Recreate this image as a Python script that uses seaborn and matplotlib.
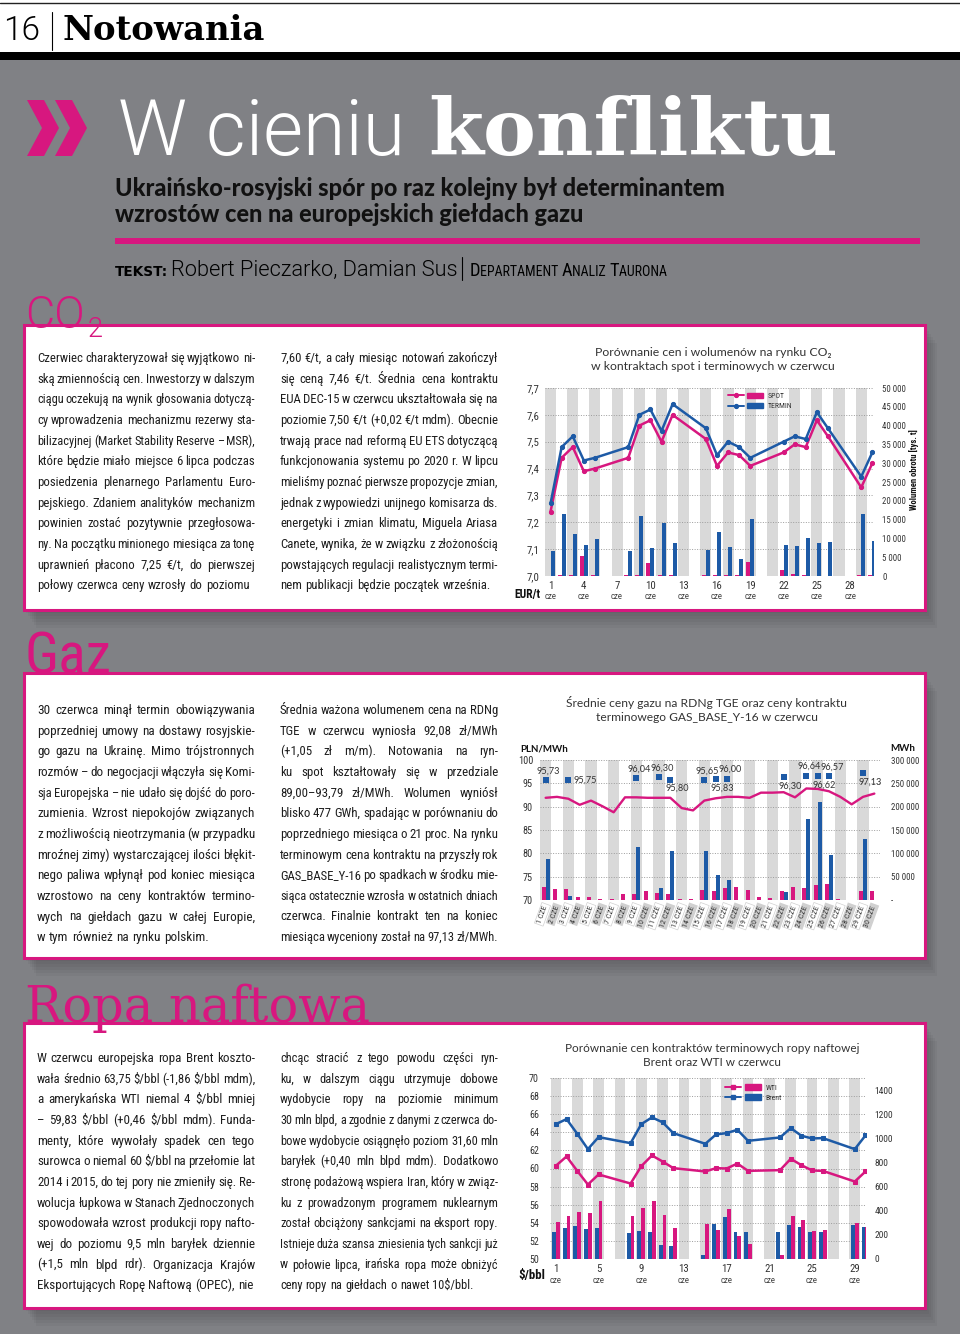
import numpy as np
import pandas as pd
import matplotlib
matplotlib.use('Agg')
import matplotlib.pyplot as plt
import seaborn as sns
from matplotlib import font_manager
from matplotlib.patches import Rectangle, Polygon, Patch
from matplotlib.lines import Line2D
from matplotlib.legend_handler import HandlerTuple
from matplotlib.transforms import blended_transform_factory

# ---------------- data ----------------
# CO2: trading days of June, prices EUR/t and volumes (tys. t)
co2_days = [1, 2, 3, 4, 5, 8, 9, 10, 11, 12, 15, 16, 17, 18, 19, 22, 23, 24, 25, 26, 29, 30]
co2_spot = [7.24, 7.44, 7.48, 7.39, 7.40, 7.44, 7.56, 7.58, 7.50, 7.60, 7.51, 7.41,
            7.46, 7.45, 7.41, 7.46, 7.49, 7.48, 7.58, 7.52, 7.33, 7.42]
co2_termin = [7.27, 7.48, 7.52, 7.43, 7.44, 7.48, 7.60, 7.62, 7.54, 7.64, 7.55, 7.45,
              7.50, 7.48, 7.44, 7.50, 7.52, 7.51, 7.61, 7.55, 7.37, 7.46]
co2_spot_vol = [100, 300, 300, 5250, 300, 200, 300, 3470, 300, 150, 150, 200,
                300, 200, 3650, 1690, 620, 200, 0, 0, 200, 200]
co2_termin_vol = [6670, 16550, 11300, 8190, 9880, 6670, 16000, 7380, 13970, 8810, 6850, 11650,
                  7830, 4450, 15040, 8360, 8010, 10140, 8720, 9080, 16460, 9250]
co2_label_days = [1, 4, 7, 10, 13, 16, 19, 22, 25, 28]
co2_price_ticks = [7.0, 7.1, 7.2, 7.3, 7.4, 7.5, 7.6, 7.7]
co2_vol_ticks = [0, 5000, 10000, 15000, 20000, 25000, 30000, 35000, 40000, 45000, 50000]

# Gas: RDNg daily average price (PLN/MWh) and volume (MWh), GAS_BASE_Y-16 price and volume
gas_days = list(range(1, 31))
gas_rdn_price = [91.9, 92.1, 91.7, 90.4, 91.3, 90.1, 88.8, 92.0, 92.0, 91.9, 91.9, 91.9, 89.7, 89.2, 91.3,
                 91.8, 92.1, 92.1, 91.9, 93.0, 93.0, 93.1, 92.0, 93.9, 93.8, 93.3, 92.1, 90.5, 92.1, 92.8]
gas_rdn_vol = [28500, 22860, 22860, 5710, 6430, 1400, 2000, 13570, 12860, 19290, 14290, 12140, 2860, 1430, 22140,
               20000, 25000, 27860, 22140, 5710, 4290, 18570, 28570, 25710, 31430, 33570, 2140, 710, 20000, 20000]
gas_y16_days = [1, 3, 9, 11, 12, 15, 16, 17, 22, 24, 25, 26, 29]
gas_y16_price = [95.73, 95.75, 96.04, 96.30, 95.80, 95.65, 95.83, 96.00, 96.30, 96.64, 96.62, 96.57, 97.13]
gas_y16_vol = [87860, 8570, 112860, 26430, 105000, 105000, 52860, 42860, 16430, 173570, 209290, 95710, 130710]
gas_price_ticks = [70, 75, 80, 85, 90, 95, 100]
gas_vol_ticks = [0, 50000, 100000, 150000, 200000, 250000, 300000]

# Oil: Brent / WTI futures ($/bbl) and volumes
oil_days = [1, 2, 3, 4, 5, 8, 9, 10, 11, 12, 15, 16, 17, 18, 19, 22, 23, 24, 25, 26, 29, 30]
oil_brent = [64.90, 65.46, 63.84, 62.14, 63.47, 62.80, 64.90, 65.65, 65.10, 63.91, 62.73, 63.76,
             63.91, 64.28, 63.06, 63.43, 64.46, 63.62, 63.32, 63.36, 62.14, 63.65]
oil_wti = [60.30, 61.33, 59.74, 58.23, 59.34, 58.34, 60.26, 61.44, 60.77, 60.04, 59.67, 60.04,
           60.00, 60.55, 59.74, 59.82, 61.07, 60.37, 59.78, 59.74, 58.56, 59.67]
oil_brent_vol = [228, 258, 275, 247, 261, 214, 233, 222, 119, 106, 31, 292,
                 347, 228, 228, 228, 281, 269, 222, 222, 281, 269]
oil_wti_vol = [306, 361, 389, 381, 483, 356, 422, 481, 369, 258, 289, 244,
               414, 192, 122, 31, 356, 328, 233, 242, 300, 269]
oil_label_days = [1, 5, 9, 13, 17, 21, 25, 29]
oil_price_ticks = [50, 52, 54, 56, 58, 60, 62, 64, 66, 68, 70]
oil_vol_ticks = [0, 200, 400, 600, 800, 1000, 1200, 1400]

# article text, line by line as set on the page
co2_col1 = ["Czerwiec charakteryzował się wyjątkowo ni-",
            "ską zmiennością cen. Inwestorzy w dalszym",
            "ciągu oczekują na wynik głosowania dotyczą-",
            "cy wprowadzenia mechanizmu rezerwy sta-",
            "bilizacyjnej (Market Stability Reserve – MSR),",
            "które będzie miało miejsce 6 lipca podczas",
            "posiedzenia plenarnego Parlamentu Euro-",
            "pejskiego. Zdaniem analityków mechanizm",
            "powinien zostać pozytywnie przegłosowa-",
            "ny. Na początku minionego miesiąca za tonę",
            "uprawnień płacono 7,25 €/t, do pierwszej",
            "połowy czerwca ceny wzrosły do poziomu"]
co2_col2 = ["7,60 €/t, a cały miesiąc notowań zakończył",
            "się ceną 7,46 €/t. Średnia cena kontraktu",
            "EUA DEC-15 w czerwcu ukształtowała się na",
            "poziomie 7,50 €/t (+0,02 €/t mdm). Obecnie",
            "trwają prace nad reformą EU ETS dotyczącą",
            "funkcjonowania systemu po 2020 r. W lipcu",
            "mieliśmy poznać pierwsze propozycje zmian,",
            "jednak z wypowiedzi unijnego komisarza ds.",
            "energetyki i zmian klimatu, Miguela Ariasa",
            "Canete, wynika, że w związku z złożonością",
            "powstających regulacji realistycznym termi-",
            "nem publikacji będzie początek września."]
gas_col1 = ["30 czerwca minął termin obowiązywania",
            "poprzedniej umowy na dostawy rosyjskie-",
            "go gazu na Ukrainę. Mimo trójstronnych",
            "rozmów – do negocjacji włączyła się Komi-",
            "sja Europejska – nie udało się dojść do poro-",
            "zumienia. Wzrost niepokojów związanych",
            "z możliwością nieotrzymania (w przypadku",
            "mroźnej zimy) wystarczającej ilości błękit-",
            "nego paliwa wpłynął pod koniec miesiąca",
            "wzrostowo na ceny kontraktów termino-",
            "wych na giełdach gazu w całej Europie,",
            "w tym również na rynku polskim."]
gas_col2 = ["Średnia ważona wolumenem cena na RDNg",
            "TGE w czerwcu wyniosła 92,08 zł/MWh",
            "(+1,05 zł m/m). Notowania na ryn-",
            "ku spot kształtowały się w przedziale",
            "89,00–93,79 zł/MWh. Wolumen wyniósł",
            "blisko 477 GWh, spadając w porównaniu do",
            "poprzedniego miesiąca o 21 proc. Na rynku",
            "terminowym cena kontraktu na przyszły rok",
            "GAS_BASE_Y-16 po spadkach w środku mie-",
            "siąca ostatecznie wzrosła w ostatnich dniach",
            "czerwca. Finalnie kontrakt ten na koniec",
            "miesiąca wyceniony został na 97,13 zł/MWh."]
oil_col1 = ["W czerwcu europejska ropa Brent koszto-",
            "wała średnio 63,75 $/bbl (-1,86 $/bbl mdm),",
            "a amerykańska WTI niemal 4 $/bbl mniej",
            "– 59,83 $/bbl (+0,46 $/bbl mdm). Funda-",
            "menty, które wywołały spadek cen tego",
            "surowca o niemal 60 $/bbl na przełomie lat",
            "2014 i 2015, do tej pory nie zmieniły się. Re-",
            "wolucja łupkowa w Stanach Zjednoczonych",
            "spowodowała wzrost produkcji ropy nafto-",
            "wej do poziomu 9,5 mln baryłek dziennie",
            "(+1,5 mln blpd rdr). Organizacja Krajów",
            "Eksportujących Ropę Naftową (OPEC), nie"]
oil_col2 = ["chcąc stracić z tego powodu części ryn-",
            "ku, w dalszym ciągu utrzymuje dobowe",
            "wydobycie ropy na poziomie minimum",
            "30 mln blpd, a zgodnie z danymi z czerwca do-",
            "bowe wydobycie osiągnęło poziom 31,60 mln",
            "baryłek (+0,40 mln blpd mdm). Dodatkowo",
            "stronę podażową wspiera Iran, który w związ-",
            "ku z prowadzonym programem nuklearnym",
            "został obciążony sankcjami na eksport ropy.",
            "Istnieje duża szansa zniesienia tych sankcji już",
            "w połowie lipca, irańska ropa może obniżyć",
            "ceny ropy na giełdach o nawet 10$/bbl."]

# ---------------- style ----------------
sns.set_style('white')
FONTS = font_manager.fontManager.ttflist
NAMES = {f.name for f in FONTS}


def pick(*names):
    for n in names:
        if n in NAMES:
            return n
    return 'DejaVu Sans'


def has_weight(name, w):
    return any(f.name == name and f.weight in (w, str(w)) for f in FONTS)


NARROW = [pick('Liberation Sans Narrow', 'Roboto Condensed', 'Roboto', 'Liberation Sans'), 'DejaVu Sans']
HUMAN = [pick('Lato', 'Roboto'), 'DejaVu Sans']
if has_weight('Roboto', 300):
    THIN = dict(family=['Roboto', 'DejaVu Sans'], weight=300)
else:
    THIN = dict(family=HUMAN, weight='light')
plt.rcParams['font.family'] = NARROW
plt.rcParams['axes.unicode_minus'] = False

MAGENTA = '#d7177f'
BLUE = '#1d5aa6'
PAGE_GREY = '#808185'
STRIPE = '#d9d9d9'
INK = '#1e1e1e'
AXTXT = '#333333'

W, H = 960, 1338
fig = plt.figure(figsize=(W / 100, H / 100), dpi=100)
R = fig.canvas.get_renderer()


def fx(x):
    return x / W


def fy(y):
    return 1 - y / H


def txt(x, y, s, size, **kw):
    kw.setdefault('va', 'baseline')
    kw.setdefault('parse_math', False)
    return fig.text(fx(x), fy(y), s, fontsize=size, **kw)


def fit(t, width):
    w = t.get_window_extent(R).width
    t.set_fontsize(t.get_fontsize() * width / w)
    return t


def rect(x0, y0, x1, y1, **kw):
    fig.add_artist(Rectangle((fx(x0), fy(y1)), fx(x1) - fx(x0), fy(y0) - fy(y1),
                             transform=fig.transFigure, **kw))


def measure(words, fs):
    arts = [txt(0, 0, w, fs, family=NARROW) for w in words]
    ws = [a.get_window_extent(R).width for a in arts]
    for a in arts:
        a.remove()
    return ws


def column(lines, x0, x1, y0, step=20.65, cap=9.6):
    ''' justified column of text, last line ragged '''
    width = x1 - x0
    probe = 10.0
    need = []
    for line in lines:
        words = line.split(' ')
        ws = measure(words, probe)
        em = probe / 72 * 100
        need.append(probe * width / (sum(ws) + 0.2 * em * (len(words) - 1)))
    base = min(cap, float(np.percentile(need[:-1], 30)))
    for i, line in enumerate(lines):
        y = y0 + i * step
        words = line.split(' ')
        fs = min(base, need[i])
        arts = [txt(0, y, w, fs, family=NARROW, color=INK, zorder=4) for w in words]
        ws = [a.get_window_extent(R).width for a in arts]
        em = fs / 72 * 100
        gap = (width - sum(ws)) / max(len(words) - 1, 1)
        if i == len(lines) - 1:
            gap = min(gap, 0.26 * em)
        x = x0
        for a, w in zip(arts, ws):
            a.set_x(fx(x))
            x += w + gap


def small_caps(x, y, s, big, width, **kw):
    ''' capital letters starting a word are set larger, the rest smaller '''
    parts = []
    for word in s.split(' '):
        parts.append((word[0], big))
        parts.append((word[1:] + ' ', big * 0.76))
    arts = [txt(0, y, p, size, **kw) for p, size in parts]
    ws = [a.get_window_extent(R).width for a in arts]
    scale = width / sum(ws)
    xx = x
    for a, w in zip(arts, ws):
        a.set_fontsize(a.get_fontsize() * scale)
        a.set_x(fx(xx))
        xx += w * scale


def pl(v, nd):
    return f'{v:.{nd}f}'.replace('.', ',')


def thousands(v):
    return f'{v:,.0f}'.replace(',', ' ')


# ---------------- page furniture ----------------
rect(0, 60, 960, 1334, fc=PAGE_GREY, ec='none', zorder=-5)
rect(0, 52, 960, 60, fc='black', ec='none', zorder=-4)
fig.add_artist(Line2D([0, 1], [fy(2.5)] * 2, color='#222222', lw=1.0, transform=fig.transFigure))
fig.add_artist(Line2D([fx(52)] * 2, [fy(12), fy(50)], color='black', lw=0.8, transform=fig.transFigure))
fit(txt(3, 40, '16', 26, color='black', **THIN), 37)
fit(txt(62, 40, 'Notowania', 24, color='black', family='DejaVu Serif', weight='bold'), 203)

# chevrons
for dx in (0, 28):
    fig.add_artist(Polygon([(fx(27 + dx), fy(100)), (fx(44 + dx), fy(100)), (fx(59 + dx), fy(128)),
                            (fx(44 + dx), fy(156)), (fx(27 + dx), fy(156)), (fx(42 + dx), fy(128))],
                           closed=True, fc=MAGENTA, ec='none', transform=fig.transFigure))
fit(txt(118, 155, 'W cieniu', 55, color='white', **THIN), 287)
fit(txt(428, 155, 'konfliktu', 54, color='white', family='DejaVu Serif', weight='bold'), 410)
sub = fit(txt(115, 196, 'Ukraińsko-rosyjski spór po raz kolejny był determinantem', 14,
              color='#111111', family=HUMAN, weight='black'), 613)
txt(115, 222, 'wzrostów cen na europejskich giełdach gazu', sub.get_fontsize(),
    color='#111111', family=HUMAN, weight='black')
rect(115, 238, 920, 244, fc=MAGENTA, ec='none', zorder=-3)
fit(txt(115, 276, 'TEKST:', 9, color='black', family='DejaVu Sans', weight='bold'), 53)
fit(txt(171, 276, 'Robert Pieczarko, Damian Sus', 19, color='black', **THIN), 286)
fig.add_artist(Line2D([fx(462)] * 2, [fy(257), fy(280)], color='black', lw=0.8, transform=fig.transFigure))
small_caps(470, 276, 'DEPARTAMENT ANALIZ TAURONA', 11, 200, color='black', family=NARROW)

# white boxes with shadow
for y0, y1 in [(325, 610), (673, 958), (1023, 1308)]:
    for k in range(1, 7):
        rect(24 + 2 * k, y0 + 3 * k, 925 + 2 * k, y1 + 3 * k, fc='black', ec='none', alpha=0.035, zorder=-3)
    rect(24, y0, 925, y1, fc='white', ec=MAGENTA, lw=2.2, zorder=-2)

fit(txt(25, 328, 'CO', 44, color=MAGENTA, zorder=5, **THIN), 60)
fit(txt(88, 337, '2', 26, color=MAGENTA, zorder=5, **THIN), 15)
fit(txt(25, 674, 'Gaz', 44, color=MAGENTA, family=NARROW, zorder=5), 87)
fit(txt(25, 1022, 'Ropa naftowa', 44, color=MAGENTA, family='DejaVu Serif', zorder=5), 345)

column(co2_col1, 37, 255, 362)
column(co2_col2, 280, 498, 362)
column(gas_col1, 37, 255, 714)
column(gas_col2, 280, 498, 714)
column(oil_col1, 37, 255, 1062)
column(oil_col2, 280, 498, 1062)


# ---------------- charts ----------------
def make_axes(x0, y0, x1, y1):
    base = fig.add_axes([fx(x0), fy(y1), (x1 - x0) / W, (y1 - y0) / H])
    vol = base.twinx()
    top = base.twinx()
    top.yaxis.set_visible(False)
    for a in (base, vol, top):
        for s in a.spines.values():
            s.set_visible(False)
    for d in range(1, 31, 2):
        base.axvspan(d - 0.5, d + 0.5, color=STRIPE, lw=0, zorder=0)
    base.set_axisbelow(True)
    base.grid(axis='y', linestyle=(0, (1, 1.6)), color='#9c9c9c', lw=0.7)
    base.grid(axis='x', visible=False)
    return base, vol, top


def finish(base, vol, top, xlim, plim, vlim, pticks, plabels, vticks, vlabels, ppad, vpad, psize, vsize):
    base.set_xlim(xlim)
    base.set_ylim(plim)
    top.set_ylim(plim)
    vol.set_ylim(vlim)
    base.set_yticks(pticks)
    base.set_yticklabels(plabels, fontsize=psize, color=AXTXT)
    vol.set_yticks(vticks)
    vol.set_yticklabels(vlabels, fontsize=vsize, color=AXTXT)
    base.tick_params(axis='y', length=0, pad=ppad)
    vol.tick_params(axis='y', length=0, pad=vpad)
    base.tick_params(axis='x', length=0)
    for a in (base, vol, top):
        a.set_xlabel('')
        a.set_ylabel('')


def day_labels(base, days, cze_y, pad):
    base.set_xticks(days)
    base.set_xticklabels([str(d) for d in days], fontsize=7.8, color=AXTXT)
    base.tick_params(axis='x', pad=pad)
    tr = blended_transform_factory(base.transData, base.transAxes)
    for d in days:
        base.text(d, cze_y, 'cze', transform=tr, ha='center', va='center', fontsize=6.4, color='#444444')


def bars(ax, days_list, vals_list, names, colors, width):
    df = pd.concat([pd.DataFrame({'day': d, 'vol': v, 'typ': n})
                    for d, v, n in zip(days_list, vals_list, names)], ignore_index=True)
    sns.barplot(data=df, x='day', y='vol', hue='typ', hue_order=names, palette=colors,
                native_scale=True, width=width, dodge=True, saturation=1, errorbar=None,
                legend=False, linewidth=0, ax=ax)


def legend(ax, names, colors, marker, anchor):
    handles = [(Line2D([], [], color=c, lw=1.4, marker=marker, ms=2.8), Patch(color=c)) for c in colors]
    leg = ax.legend(handles, names, handler_map={tuple: HandlerTuple(ndivide=None, pad=0.5)},
                    loc='upper left', bbox_to_anchor=anchor, frameon=False, fontsize=5.6,
                    handlelength=4.6, handleheight=0.75, labelspacing=0.45, handletextpad=0.6,
                    borderaxespad=0, borderpad=0)
    for t in leg.get_texts():
        t.set_color(AXTXT)


# --- CO2
base, vol, top = make_axes(545, 388, 874, 576)
bars(vol, [co2_days, co2_days], [co2_spot_vol, co2_termin_vol], ['SPOT', 'TERMIN'], [MAGENTA, BLUE], 0.72)
sns.lineplot(x=co2_days, y=co2_spot, ax=top, color=MAGENTA, lw=1.8, marker='o', markersize=3, mec=MAGENTA)
sns.lineplot(x=co2_days, y=co2_termin, ax=top, color=BLUE, lw=1.8, marker='o', markersize=3, mec=BLUE)
finish(base, vol, top, (0.5, 30.15), (7.0, 7.7), (0, 50000),
       co2_price_ticks, [pl(v, 1) for v in co2_price_ticks],
       co2_vol_ticks, [thousands(v) for v in co2_vol_ticks], 4, 6, 7.8, 6.3)
day_labels(base, co2_label_days, -0.108, 3.5)
legend(top, ['SPOT', 'TERMIN'], [MAGENTA, BLUE], 'o', (0.555, 0.975))
c1 = txt(713, 356, 'Porównanie cen i wolumenów na rynku CO₂', 9, color=AXTXT, family=HUMAN, ha='center')
c2 = fit(txt(713, 370, 'w kontraktach spot i terminowych w czerwcu', 9, color=AXTXT, family=HUMAN, ha='center'), 245)
c1.set_fontsize(c2.get_fontsize())
fit(txt(514, 598, 'EUR/t', 7.4, color='#111111', weight='bold'), 26)
fig.text(fx(914), fy(470), 'Wolumen obrotu [tys. t]', rotation=90, ha='center', va='center',
         fontsize=6.2, weight='bold', color='#111111')

# --- Gas
base, vol, top = make_axes(540, 760, 880, 900)
bars(vol, [gas_days, gas_y16_days], [gas_rdn_vol, gas_y16_vol], ['RDNg', 'GAS_BASE_Y-16'], [MAGENTA, BLUE], 0.72)
sns.lineplot(x=gas_days, y=gas_rdn_price, ax=top, color=MAGENTA, lw=1.7)
sns.scatterplot(x=gas_y16_days, y=gas_y16_price, ax=top, color=BLUE, marker='s', s=24, linewidth=0)
label_side = ['above', 'right', 'above', 'above', 'below', 'above', 'below',
              'above', 'below', 'above', 'below', 'above', 'below']
offsets = {'above': ((2, 6.5), 'center'), 'below': ((5, -6.5), 'center'), 'right': ((4, 0), 'left')}
for d, p, side in zip(gas_y16_days, gas_y16_price, label_side):
    off, ha = offsets[side]
    top.annotate(pl(p, 2), (d, p), xytext=off, textcoords='offset points', ha=ha, va='center',
                 fontsize=6.6, color=AXTXT, family=HUMAN)
finish(base, vol, top, (0.5, 30.5), (70, 100), (0, 300000),
       gas_price_ticks, [str(v) for v in gas_price_ticks],
       gas_vol_ticks, ['-' if v == 0 else thousands(v) for v in gas_vol_ticks], 5, 8, 7.4, 6.4)
base.set_xticks(gas_days)
base.set_xticklabels([f'{d} CZE' for d in gas_days], rotation=70, ha='right', va='center',
                     rotation_mode='anchor', fontsize=5.8, color=AXTXT)
base.tick_params(axis='x', pad=4)
for d, lab in zip(gas_days, base.get_xticklabels()):
    if d % 2 == 0:
        lab.set_bbox(dict(boxstyle='square,pad=0.2', fc='#d0d0d0', ec='none'))
    else:
        lab.set_bbox(dict(boxstyle='square,pad=0.2', fc='white', ec='#d0d0d0', lw=0.5))
t1 = fit(txt(707, 707, 'Średnie ceny gazu na RDNg TGE oraz ceny kontraktu', 9, color=AXTXT,
             family=HUMAN, ha='center'), 280)
txt(707, 721, 'terminowego GAS_BASE_Y-16 w czerwcu', t1.get_fontsize(), color=AXTXT, family=HUMAN, ha='center')
txt(520, 751, 'PLN/MWh', 7.0, color='#111111', weight='bold', family=HUMAN)
txt(890, 751, 'MWh', 7.0, color='#111111', weight='bold', family=HUMAN)

# --- Oil
base, vol, top = make_axes(550, 1078, 866, 1259)
bars(vol, [oil_days, oil_days], [oil_brent_vol, oil_wti_vol], ['Brent', 'WTI'], [BLUE, MAGENTA], 0.72)
sns.lineplot(x=oil_days, y=oil_wti, ax=top, color=MAGENTA, lw=1.8, marker='s', markersize=3, mec=MAGENTA)
sns.lineplot(x=oil_days, y=oil_brent, ax=top, color=BLUE, lw=1.8, marker='s', markersize=3, mec=BLUE)
finish(base, vol, top, (0.45, 30.05), (50, 70), (0, 1503),
       oil_price_ticks, [str(v) for v in oil_price_ticks],
       oil_vol_ticks, [str(v) for v in oil_vol_ticks], 8, 6, 7.2, 6.8)
day_labels(base, oil_label_days, -0.118, 3.5)
legend(top, ['WTI', 'Brent'], [MAGENTA, BLUE], 's', (0.555, 0.965))
t2 = fit(txt(712, 1052, 'Porównanie cen kontraktów terminowych ropy naftowej', 9, color=AXTXT,
             family=HUMAN, ha='center'), 294)
txt(712, 1066, 'Brent oraz WTI w czerwcu', t2.get_fontsize(), color=AXTXT, family=HUMAN, ha='center')
fit(txt(518, 1279, '$/bbl', 7.4, color='#111111', weight='bold'), 27)

fig.savefig('out.png', dpi=100, facecolor='white')
